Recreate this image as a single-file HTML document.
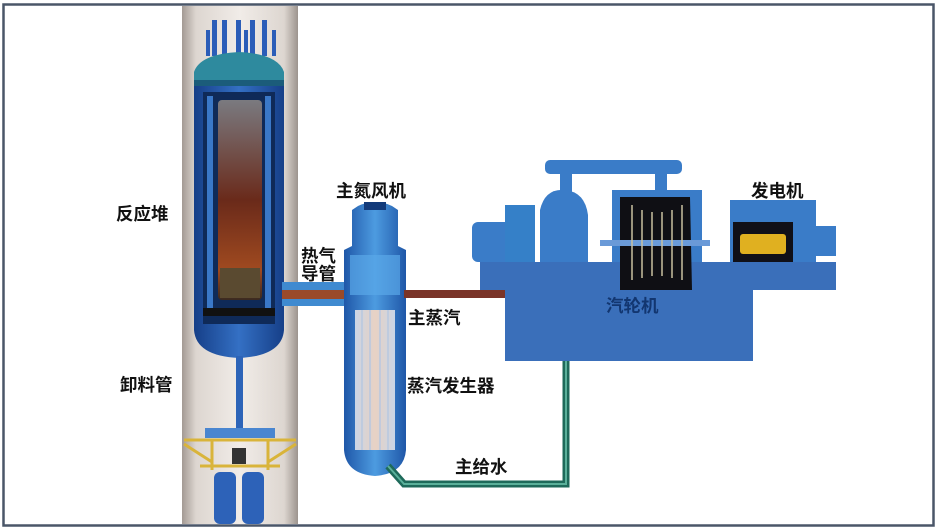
<!DOCTYPE html>
<html><head><meta charset="utf-8"><style>
html,body{margin:0;padding:0;background:#fff;}
svg{display:block;}
text{font-family:"Liberation Sans","Noto Sans CJK SC",sans-serif;font-weight:bold;font-size:17.5px;fill:#111;}
</style></head><body>
<svg width="938" height="529" viewBox="0 0 938 529" xmlns="http://www.w3.org/2000/svg">
<defs>
<linearGradient id="col" x1="0" x2="1"><stop offset="0" stop-color="#a39a94"/><stop offset="0.12" stop-color="#ddd6d0"/><stop offset="0.5" stop-color="#f1ece8"/><stop offset="0.88" stop-color="#ddd6d0"/><stop offset="1" stop-color="#9c948e"/></linearGradient>
<linearGradient id="core" x1="0" y1="0" x2="0" y2="1"><stop offset="0" stop-color="#7a7a80"/><stop offset="0.5" stop-color="#6a2a1a"/><stop offset="0.85" stop-color="#a04a20"/><stop offset="1" stop-color="#3a2a20"/></linearGradient>
<linearGradient id="ves" x1="0" x2="1"><stop offset="0" stop-color="#163f88"/><stop offset="0.5" stop-color="#3470c4"/><stop offset="1" stop-color="#163f88"/></linearGradient>
<linearGradient id="sg" x1="0" x2="1"><stop offset="0" stop-color="#1f57a8"/><stop offset="0.5" stop-color="#4d9be0"/><stop offset="1" stop-color="#1f57a8"/></linearGradient>
<linearGradient id="tube" x1="0" x2="1"><stop offset="0" stop-color="#c9d5e6"/><stop offset="0.5" stop-color="#e8d2c4"/><stop offset="1" stop-color="#c9d5e6"/></linearGradient>
</defs>
<rect x="3.5" y="4.5" width="930" height="521" fill="#fff" stroke="#4a5668" stroke-width="2.5"/>
<rect x="182" y="6" width="116" height="518" fill="url(#col)"/>
<g fill="#2b5db8">
<rect x="212" y="20" width="5" height="36"/><rect x="222" y="20" width="5" height="36"/><rect x="236" y="20" width="5" height="36"/><rect x="250" y="20" width="5" height="36"/><rect x="262" y="20" width="5" height="36"/>
<rect x="206" y="30" width="4" height="26"/><rect x="244" y="30" width="4" height="26"/><rect x="272" y="30" width="4" height="26"/>
</g>
<path d="M194 84 L194 72 Q200 54 239 52 Q278 54 284 72 L284 84 Z" fill="#2e8a9e"/>
<rect x="194" y="80" width="90" height="6" fill="#1b5c7a"/>
<path d="M194 86 L284 86 L284 330 Q282 356 239 358 Q196 356 194 330 Z" fill="url(#ves)"/>
<rect x="203" y="92" width="72" height="232" fill="#0f2a58"/>
<rect x="207" y="96" width="6" height="220" fill="#3a78c8"/><rect x="265" y="96" width="6" height="220" fill="#3a78c8"/>
<rect x="218" y="100" width="44" height="200" rx="4" fill="url(#core)"/>
<rect x="220" y="268" width="40" height="30" fill="#5a4a30"/>
<rect x="203" y="308" width="72" height="8" fill="#111"/>
<rect x="236" y="356" width="7" height="75" fill="#2d64b8"/>
<rect x="205" y="428" width="70" height="10" fill="#4a86d0"/>
<g stroke="#d9b43a" stroke-width="3"><line x1="184" y1="440" x2="296" y2="440"/><line x1="200" y1="466" x2="280" y2="466"/><line x1="184" y1="444" x2="212" y2="462"/><line x1="296" y1="444" x2="268" y2="462"/><line x1="212" y1="440" x2="212" y2="470"/><line x1="268" y1="440" x2="268" y2="470"/></g>
<rect x="232" y="448" width="14" height="16" fill="#333"/>
<rect x="214" y="472" width="22" height="52" rx="6" fill="#2d62b8"/><rect x="242" y="472" width="22" height="52" rx="6" fill="#2d62b8"/>
<rect x="282" y="282" width="68" height="24" fill="#3f8ad0"/>
<rect x="282" y="290" width="68" height="9" fill="#9a4a2a"/>
<path d="M358 206 Q375 198 392 206 L398 210 L398 246 L406 250 L406 450 Q404 474 375 476 Q346 474 344 450 L344 250 L352 246 L352 210 Z" fill="url(#sg)"/>
<rect x="364" y="202" width="22" height="8" fill="#123a7a"/>
<rect x="355" y="310" width="40" height="140" fill="url(#tube)"/>
<g stroke="#b8c8e0" stroke-width="1.5"><line x1="362" y1="310" x2="362" y2="450"/><line x1="370" y1="310" x2="370" y2="450"/><line x1="380" y1="310" x2="380" y2="450"/><line x1="388" y1="310" x2="388" y2="450"/></g>
<rect x="350" y="255" width="50" height="40" fill="#5aa8e8" opacity="0.7"/>
<rect x="404" y="290" width="102" height="8" fill="#7a3428"/>
<path d="M566 360 L566 484 L404 484 L388 466" fill="none" stroke="#1e6a5a" stroke-width="7"/>
<path d="M566 360 L566 484 L404 484 L388 466" fill="none" stroke="#5ab09a" stroke-width="2"/>
<rect x="505" y="288" width="248" height="73" fill="#3a6fba"/>
<rect x="480" y="262" width="356" height="28" fill="#3a6fba"/>
<rect x="545" y="160" width="95" height="14" rx="5" fill="#3a7cc8"/>
<rect x="560" y="172" width="12" height="20" fill="#3a7cc8"/><rect x="655" y="172" width="12" height="22" fill="#3a7cc8"/>
<rect x="590" y="160" width="92" height="14" rx="5" fill="#3a7cc8"/>
<path d="M540 262 L540 210 Q545 188 565 190 Q585 192 588 215 L588 262 Z" fill="#3a7cc8"/>
<rect x="472" y="222" width="40" height="40" rx="6" fill="#3a7cc8"/>
<rect x="505" y="205" width="30" height="57" fill="#3580c8"/>
<rect x="612" y="190" width="90" height="72" fill="#3a7cc8"/>
<path d="M620 197 L690 197 L692 290 L620 290 Z" fill="#0f0f14"/>
<rect x="600" y="240" width="110" height="6" fill="#6a9ad8"/>
<g stroke="#c8c0a0" stroke-width="1.5"><line x1="632" y1="205" x2="632" y2="280"/><line x1="642" y1="210" x2="642" y2="278"/><line x1="652" y1="212" x2="652" y2="276"/><line x1="662" y1="212" x2="662" y2="276"/><line x1="672" y1="210" x2="672" y2="278"/><line x1="682" y1="205" x2="682" y2="280"/></g>
<rect x="730" y="200" width="86" height="62" fill="#3a7cc8"/>
<rect x="733" y="222" width="60" height="40" fill="#101018"/>
<rect x="740" y="234" width="46" height="20" rx="3" fill="#e0b020"/>
<rect x="816" y="226" width="20" height="30" fill="#3a7cc8"/>
<text x="116" y="220">反应堆</text>
<text x="120" y="391">卸料管</text>
<text x="336" y="197">主氮风机</text>
<text x="301" y="262">热气</text>
<text x="301" y="280">导管</text>
<text x="408" y="324">主蒸汽</text>
<text x="407" y="392">蒸汽发生器</text>
<text x="455" y="473">主给水</text>
<text x="751" y="197">发电机</text>
<text x="606" y="312" style="fill:#123670">汽轮机</text>
</svg>
</body></html>
